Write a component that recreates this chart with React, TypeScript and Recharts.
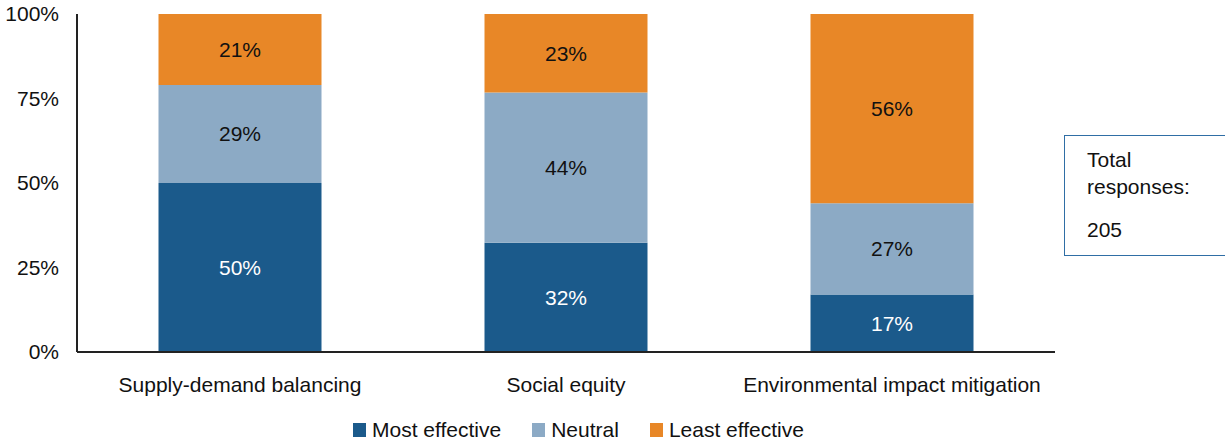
import React from 'react'
import { BarChart, Bar, XAxis, YAxis, LabelList } from 'recharts'

const CATEGORIES = ['Supply-demand balancing', 'Social equity', 'Environmental impact mitigation']
const MOST_EFFECTIVE = [50, 32, 17]
const NEUTRAL = [29, 44, 27]
const LEAST_EFFECTIVE = [21, 23, 56]
const Y_TICKS = [0, 0.25, 0.5, 0.75, 1]

const SERIES = [
  { key: 'most', name: 'Most effective', fill: '#1b5a8b', label: '#ffffff' },
  { key: 'neutral', name: 'Neutral', fill: '#8caac5', label: '#111111' },
  { key: 'least', name: 'Least effective', fill: '#e88727', label: '#111111' },
]

const FONT = 'Liberation Sans, Arial, sans-serif'
const FS = 21

const data = CATEGORIES.map((name, i) => ({
  name,
  most: MOST_EFFECTIVE[i],
  neutral: NEUTRAL[i],
  least: LEAST_EFFECTIVE[i],
}))

export default function App() {
  return (
    <div style={{ position: 'absolute', left: 0, top: 0, width: 1225, height: 444, background: '#fff', fontFamily: FONT }}>
      <BarChart
        width={1225}
        height={444}
        data={data}
        stackOffset="expand"
        barCategoryGap="25%"
        margin={{ top: 14, right: 170, bottom: 42, left: 0 }}
      >
        <YAxis
          width={77}
          domain={[0, 1]}
          ticks={Y_TICKS}
          tickFormatter={(v) => `${Math.round(v * 100)}%`}
          tickLine={false}
          tickMargin={12}
          axisLine={{ stroke: '#222', strokeWidth: 2 }}
          tick={{ fill: '#111', fontSize: FS, fontFamily: FONT }}
        />
        <XAxis
          dataKey="name"
          height={50}
          tickLine={false}
          tickSize={0}
          tickMargin={25}
          interval={0}
          axisLine={{ stroke: '#222', strokeWidth: 2 }}
          tick={{ fill: '#111', fontSize: FS, fontFamily: FONT }}
        />
        {SERIES.map((s) => (
          <Bar key={s.key} dataKey={s.key} name={s.name} stackId="a" fill={s.fill} isAnimationActive={false}>
            <LabelList
              dataKey={s.key}
              position="center"
              formatter={(v) => `${v}%`}
              style={{ fill: s.label, fontSize: FS, fontFamily: FONT }}
            />
          </Bar>
        ))}
      </BarChart>

      <div style={{ position: 'absolute', left: 353, top: 418, display: 'flex', alignItems: 'center', fontSize: FS, color: '#111', whiteSpace: 'nowrap' }}>
        {SERIES.map((s, i) => (
          <div key={s.key} style={{ display: 'flex', alignItems: 'center', marginLeft: i === 0 ? 0 : 31 }}>
            <span style={{ width: 13, height: 14, background: s.fill, display: 'inline-block', marginRight: 6 }} />
            <span>{s.name}</span>
          </div>
        ))}
      </div>

      <div
        style={{
          position: 'absolute', left: 1064, top: 135, width: 175, height: 121,
          border: '1.5px solid #2f6ea5', boxSizing: 'border-box', padding: '10px 0 0 22px',
          fontSize: FS, color: '#111', lineHeight: '27px',
        }}
      >
        <div>Total</div>
        <div>responses:</div>
        <div style={{ marginTop: 16 }}>205</div>
      </div>
    </div>
  )
}
